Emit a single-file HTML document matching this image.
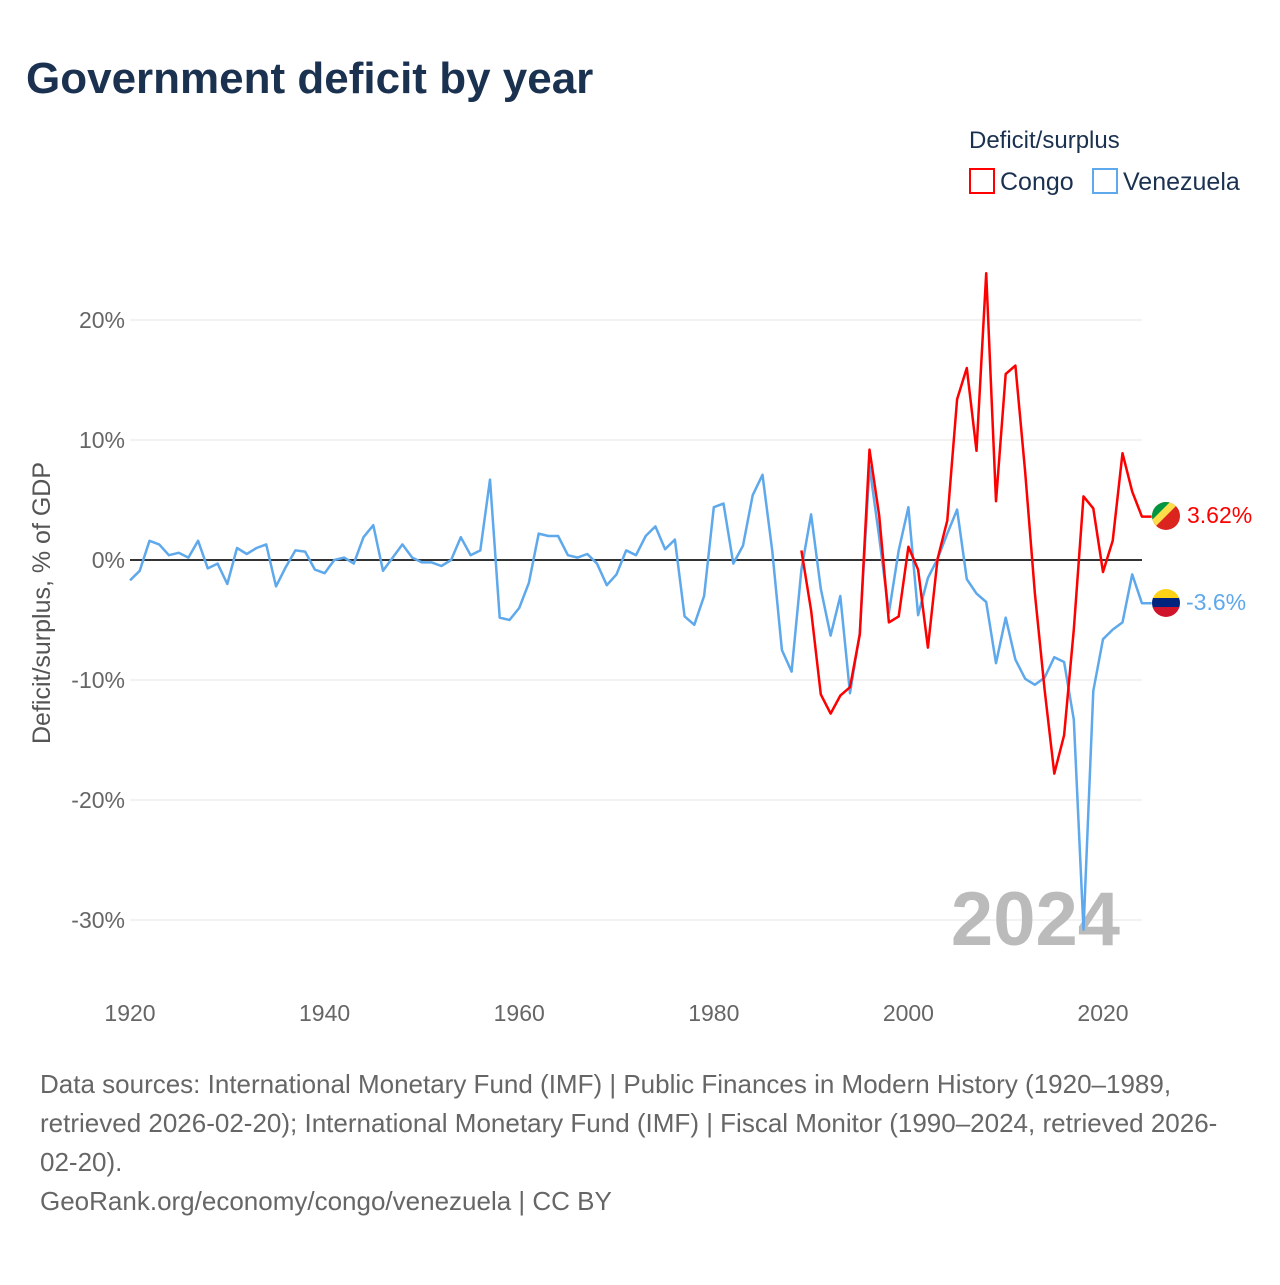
<!DOCTYPE html>
<html><head><meta charset="utf-8"><style>
body{margin:0;background:#fff;font-family:"Liberation Sans",sans-serif;}
svg text{font-family:"Liberation Sans",sans-serif;}
</style></head><body>
<svg id="c" width="1280" height="1280" xmlns="http://www.w3.org/2000/svg">
<text x="26" y="93" font-size="44" font-weight="bold" fill="#1b3150">Government deficit by year</text>
<text x="969" y="148" font-size="24" fill="#1b3150">Deficit/surplus</text>
<g><rect x="970" y="169" width="24" height="24" fill="none" stroke="#f00" stroke-width="2"/><text x="1000" y="190" font-size="25" fill="#1b3150">Congo</text></g>
<g><rect x="1093" y="169" width="24" height="24" fill="none" stroke="#5ea8ec" stroke-width="2"/><text x="1123" y="190" font-size="25" fill="#1b3150">Venezuela</text></g>
<g id="grid"></g>
<text x="1120" y="945" font-size="76" font-weight="bold" fill="#bbb" text-anchor="end">2024</text>
<g id="lines"></g>
<text transform="translate(50,603) rotate(-90)" font-size="25" fill="#555" text-anchor="middle">Deficit/surplus, % of GDP</text>
<g><clipPath id="cc"><circle cx="1166" cy="516" r="14"/></clipPath><g clip-path="url(#cc)"><rect x="1150" y="500" width="32" height="32" fill="#dc241f"/><polygon points="1150,500 1182,500 1150,532" fill="#fbde4a"/><polygon points="1150,500 1172,500 1150,522" fill="#009543"/></g></g>
<text x="1187" y="523" font-size="23" fill="#f00">3.62%</text>
<g><clipPath id="cv"><circle cx="1166" cy="603" r="14"/></clipPath><g clip-path="url(#cv)"><rect x="1150" y="589" width="32" height="10" fill="#fcd116"/><rect x="1150" y="598" width="32" height="10" fill="#00247d"/><rect x="1150" y="607" width="32" height="12" fill="#cf142b"/></g></g>
<text x="1186" y="610" font-size="23" fill="#5ea8ec">-3.6%</text>
<text x="40" y="1093" font-size="26" fill="#666">Data sources: International Monetary Fund (IMF) | Public Finances in Modern History (1920–1989,</text>
<text x="40" y="1132" font-size="26" fill="#666">retrieved 2026-02-20); International Monetary Fund (IMF) | Fiscal Monitor (1990–2024, retrieved 2026-</text>
<text x="40" y="1171" font-size="26" fill="#666">02-20).</text>
<text x="40" y="1210" font-size="26" fill="#666">GeoRank.org/economy/congo/venezuela | CC BY</text>
</svg>
<script>
const venStart = 1920;
const venezuela = [-1.7,-0.9,1.6,1.3,0.4,0.6,0.2,1.6,-0.7,-0.3,-2.0,1.0,0.5,1.0,1.3,-2.2,-0.6,0.8,0.7,-0.8,-1.1,0.0,0.2,-0.3,1.9,2.9,-0.9,0.2,1.3,0.2,-0.2,-0.2,-0.5,0.0,1.9,0.4,0.8,6.7,-4.8,-5.0,-4.0,-1.9,2.2,2.0,2.0,0.4,0.2,0.5,-0.3,-2.1,-1.2,0.8,0.4,2.0,2.8,0.9,1.7,-4.7,-5.4,-3.0,4.4,4.7,-0.3,1.2,5.4,7.1,0.8,-7.5,-9.3,-0.8,3.8,-2.4,-6.3,-3.0,-11.1,-6.1,7.8,1.9,-4.4,0.8,4.4,-4.6,-1.5,0.1,2.2,4.2,-1.6,-2.8,-3.5,-8.6,-4.8,-8.3,-9.9,-10.4,-9.8,-8.1,-8.5,-13.3,-30.8,-10.9,-6.6,-5.8,-5.2,-1.2,-3.6,-3.6];
const congoStart = 1989;
const congo = [0.8,-4.2,-11.2,-12.8,-11.3,-10.6,-6.2,9.2,3.7,-5.2,-4.7,1.1,-0.8,-7.3,0.1,3.3,13.4,16.0,9.1,23.9,4.9,15.5,16.2,7.3,-2.8,-10.8,-17.8,-14.6,-5.8,5.3,4.3,-1.0,1.6,8.9,5.7,3.62,3.62];
const yTicks = [20,10,0,-10,-20,-30];
const xTicks = [1920,1940,1960,1980,2000,2020];
const X = yr => 130 + (yr-1920)*9.73;
const Y = v => 560 - v*12;
const NS='http://www.w3.org/2000/svg';
const grid=document.getElementById('grid'), lines=document.getElementById('lines');
function mk(tag,attrs,parent){const e=document.createElementNS(NS,tag);for(const k in attrs)e.setAttribute(k,attrs[k]);parent.appendChild(e);return e;}
yTicks.forEach(v=>{
  const l=mk('line',{x1:130,x2:1142,y1:Y(v),y2:Y(v),stroke:v===0?'#333':'#e6e6e6','stroke-width':v===0?2:1},grid);
  
  
  const t=mk('text',{x:125,y:Y(v)+8,'font-size':23,fill:'#666','text-anchor':'end'},grid);
  t.textContent=v+'%';
  
  
});
xTicks.forEach(yr=>{
  const t=mk('text',{x:X(yr),y:1021,'font-size':23,fill:'#666','text-anchor':'middle'},grid);
  t.textContent=yr;
  
  
});
function path(vals,start){return vals.map((v,i)=>(i?'L':'M')+X(start+i).toFixed(1)+','+Y(v).toFixed(1)).join('');}
const pv=mk('path',{d:path(venezuela,venStart),fill:'none',stroke:'#5ea8ec','stroke-width':2.5,'stroke-linejoin':'round'},lines);


const pc=mk('path',{d:path(congo,congoStart),fill:'none',stroke:'#f00','stroke-width':2.5,'stroke-linejoin':'round'},lines);


</script>
</body></html>
